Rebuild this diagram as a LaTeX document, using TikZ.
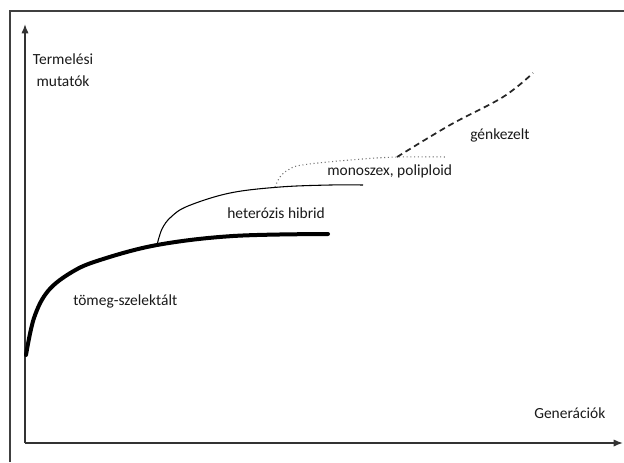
\documentclass[tikz,border=0pt]{standalone}
\usepackage{fontspec}
\setmainfont{Carlito}
\usetikzlibrary{arrows.meta}
\begin{document}
\begin{tikzpicture}[x=0.75pt, y=-0.75pt, >={Latex[length=7pt, width=5.5pt]},
    lbl/.style={font=\fontsize{11.6}{13}\selectfont, text=black!90, inner sep=0pt}]
    \useasboundingbox (0,0) rectangle (624,462);

    % Keret
    \coordinate (frameL) at (10,462);
    \coordinate (frameTL) at (10,11);
    \coordinate (frameTR) at (624,11);
    \draw[black!75, line width=0.8pt] (frameL) -- (frameTL) -- (frameTR);

    % Tengelyek
    \coordinate (O) at (25,443);
    \coordinate (ytip) at (25,24);
    \coordinate (xtip) at (623,443);
    \draw[->, line width=1.2pt, black!80] (O) -- (ytip);
    \draw[->, line width=1.2pt, black!80] (O) -- (xtip);

    % Gorbek
    \draw[line width=3pt, line cap=round]
        plot[smooth, tension=0.6] coordinates
        {(26,355) (34,318) (48,291) (72,272) (100,260) (157,245) (233,236) (328,234)};
    \draw[line width=0.8pt]
        plot[smooth, tension=0.6] coordinates
        {(157,245) (162,229) (171,217) (188,206) (230,193) (280,187) (330,185) (363,185)};
    \draw[black!55, line width=0.8pt, dotted]
        plot[smooth, tension=0.6] coordinates
        {(275,187) (280,177) (288,170) (302,165) (350,160) (397,157) (447,157)};
    \draw[black!85, line width=1.3pt, dash pattern=on 4.5pt off 3pt]
        plot[smooth, tension=0.6] coordinates
        {(397,157) (450,125) (503,97) (533,73)};

    % Feliratok
    \node[lbl, align=center, anchor=north] (ylabel) at (63,53) {Termelési\\[3.5pt]mutatók};
    \node[lbl, anchor=base west] (xlabel) at (534,418) {Generációk};
    \node[lbl, anchor=base west] (tomeg) at (73,305) {tömeg-szelektált};
    \node[lbl, anchor=base west] (hetero) at (227,218) {heterózis hibrid};
    \node[lbl, anchor=base west] (mono) at (327,175) {monoszex, poliploid};
    \node[lbl, anchor=base west] (gen) at (470,139) {génkezelt};
\end{tikzpicture}
\end{document}
